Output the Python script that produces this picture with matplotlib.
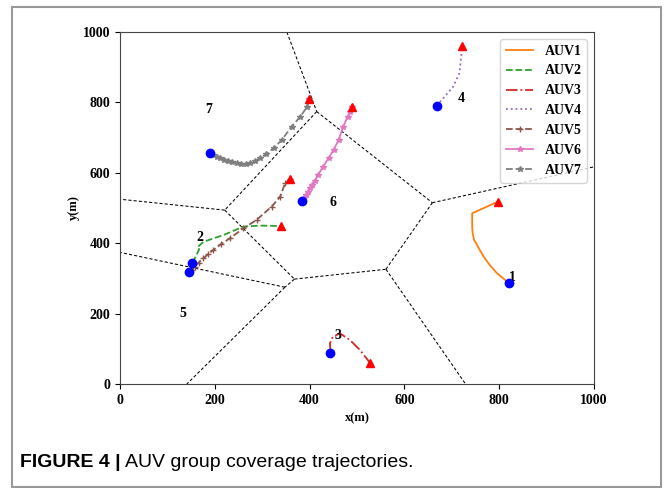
import matplotlib
matplotlib.use("Agg")
import matplotlib.pyplot as plt
from matplotlib.patches import Rectangle

# Trajectories (metres)
auv1_x = [820, 814, 795, 780, 768, 759, 752, 747, 744, 743, 743, 743, 797]
auv1_y = [288, 294, 315, 338, 360, 381, 398, 409, 428, 447, 466, 485, 518]

auv2_x = [152, 160, 167, 163, 176, 218, 260, 295, 340]
auv2_y = [345, 362, 383, 388, 404, 423, 447, 450, 449]

auv3_x = [444, 443, 449, 464, 485, 506, 528]
auv3_y = [89, 116, 134, 144, 125, 97, 59]

auv4_x = [668, 682, 703, 716, 719, 722]
auv4_y = [791, 812, 845, 883, 920, 960]

auv5_x = [146, 152, 158, 166, 176, 186, 197, 214, 232, 260, 288, 320, 338, 348, 359]
auv5_y = [319, 325, 333, 345, 357, 369, 381, 398, 414, 442, 466, 504, 532, 570, 582]

auv6_x = [385, 389, 393, 397, 401, 406, 411, 418, 428, 440, 451, 461, 471, 480, 485, 489]
auv6_y = [520, 528, 537, 546, 556, 566, 578, 594, 617, 641, 666, 693, 731, 759, 772, 786]

auv7_x = [189, 196, 204, 212, 220, 228, 237, 246, 256, 266, 274, 284, 295, 309, 324, 341, 362, 380, 394, 399]
auv7_y = [657, 651, 646, 641, 637, 633, 630, 627, 626, 626, 627, 633, 641, 654, 670, 693, 731, 759, 786, 809]

# Voronoi partition edges
edge_x0 = [352, 415, 415, 659, 221, 221, 368, 561, 561, 368, 348, 348]
edge_y0 = [1000, 774, 774, 515, 494, 494, 298, 326, 326, 298, 275, 275]
edge_x1 = [415, 221, 659, 1000, 0, 368, 561, 659, 729, 348, 0, 141]
edge_y1 = [774, 494, 515, 617, 525, 298, 326, 515, 0, 275, 374, 0]

# Region numbers
region_labels = ['1', '2', '3', '4', '5', '6', '7']
region_x = [827, 169, 459, 719, 132, 449, 188]
region_y = [303, 417, 139, 811, 199, 515, 780]

plt.rcParams['font.family'] = 'Liberation Serif'
plt.rcParams['font.weight'] = 'bold'
plt.rcParams['axes.labelweight'] = 'bold'
plt.rcParams['font.size'] = 10

fig = plt.figure(figsize=(6.64, 4.88), dpi=100)
ax = fig.add_axes([0.1807, 0.2131, 0.7139, 0.7213])

for x0, y0, x1, y1 in zip(edge_x0, edge_y0, edge_x1, edge_y1):
    ax.plot([x0, x1], [y0, y1], color='black', linestyle=(0, (3, 2)), linewidth=0.75)

tracks = [
    (auv1_x, auv1_y, 'AUV1', '#ff7f0e', '-', None),
    (auv2_x, auv2_y, 'AUV2', '#2ca02c', '--', None),
    (auv3_x, auv3_y, 'AUV3', '#d62728', '-.', None),
    (auv4_x, auv4_y, 'AUV4', '#9467bd', ':', None),
    (auv5_x, auv5_y, 'AUV5', '#8c564b', '--', '+'),
    (auv6_x, auv6_y, 'AUV6', '#e377c2', '-', '*'),
    (auv7_x, auv7_y, 'AUV7', '#7f7f7f', '--', '*'),
]
for xs, ys, name, col, ls, mk in tracks:
    ax.plot(xs, ys, color=col, linestyle=ls, marker=mk, markersize=4,
            linewidth=1.3, label=name)
    ax.plot(xs[0], ys[0], 'o', color='blue', markersize=6, zorder=5)
    ax.plot(xs[-1], ys[-1], '^', color='red', markersize=6, zorder=5)

for lab, x, y in zip(region_labels, region_x, region_y):
    ax.text(x, y, lab, ha='center', va='center', fontsize=10, fontweight='bold')

ax.set_xlim(0, 1000)
ax.set_ylim(0, 1000)
ax.set_xticks(range(0, 1001, 200))
ax.set_yticks(range(0, 1001, 200))
ax.set_xlabel('x(m)', fontsize=9)
ax.set_ylabel('y(m)', fontsize=9, labelpad=2)
for sp in ax.spines.values():
    sp.set_color('#444444')
ax.legend(loc='upper right', prop={'family': 'Liberation Serif', 'weight': 'bold', 'size': 10})

# outer figure frame and caption
fig.add_artist(Rectangle((0.018, 0.002), 0.9775, 0.984, transform=fig.transFigure,
                         fill=False, edgecolor='#999999', linewidth=1.5))
cap1 = fig.text(0.03, 0.043, 'FIGURE 4 |', fontsize=14, fontweight='bold',
                family='Liberation Sans', va='baseline')
fig.canvas.draw()
bb = cap1.get_window_extent()
fig.text(bb.x1 / fig.bbox.width + 0.007, 0.043, 'AUV group coverage trajectories.',
         fontsize=14, fontweight='normal', family='Liberation Sans', va='baseline')

fig.savefig('out.png', dpi=100)
